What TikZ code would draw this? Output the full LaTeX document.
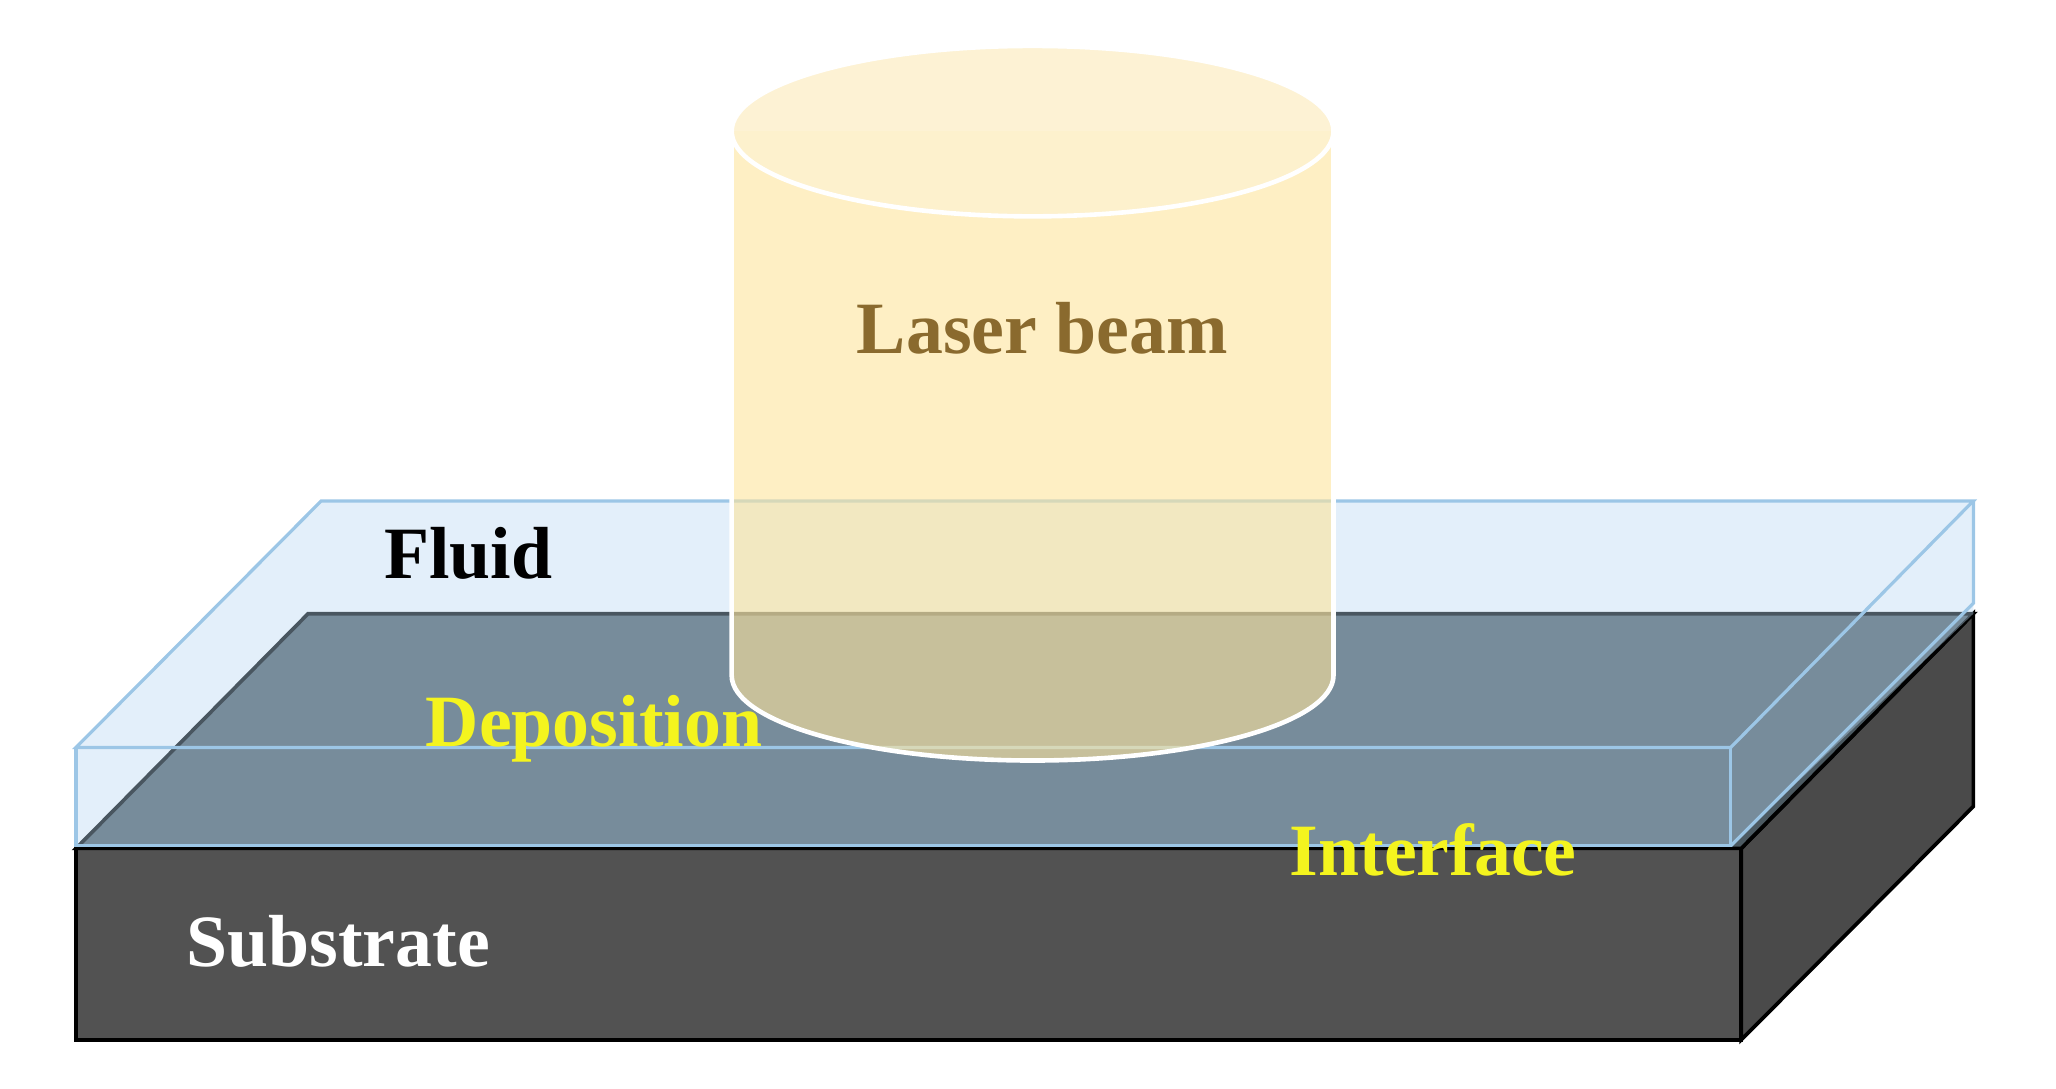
\documentclass[tikz,border=0pt]{standalone}
\usepackage{fontspec}
\setmainfont{Liberation Serif}
\definecolor{subfront}{HTML}{525252}
\definecolor{subtop}{HTML}{4C5A62}
\definecolor{fluidc}{HTML}{B8D8F2}
\definecolor{fluidedge}{HTML}{9CC6E6}
\definecolor{beamc}{HTML}{FDE49C}
\definecolor{beamtop}{HTML}{FDF1CF}
\definecolor{beamtxt}{HTML}{8A6A2E}
\definecolor{ylw}{HTML}{F4F41E}
\begin{document}
\begin{tikzpicture}[x=0.01cm,y=-0.01cm,
  lbl/.style={font=\bfseries\fontsize{16}{19}\selectfont,inner sep=0pt}]
\useasboundingbox (0,0) rectangle (1568,830);
% substrate
\draw[black,line width=0.8pt,fill=subfront] (58,647) -- (1328,647) -- (1328,793) -- (58,793) -- cycle;
\draw[black,line width=0.8pt,fill=subfront!90!black] (1328,647) -- (1505,468) -- (1505,615) -- (1328,793) -- cycle;
\draw[black,line width=0.8pt,fill=subtop] (58,647) -- (235,468) -- (1505,468) -- (1328,647) -- cycle;
% fluid
\fill[fluidc,fill opacity=0.4] (58,570) -- (245,382) -- (1505,382) -- (1320,570) -- cycle;
\fill[fluidc,fill opacity=0.4] (58,570) -- (1320,570) -- (1320,645) -- (58,645) -- cycle;
\fill[fluidc,fill opacity=0.4] (1320,570) -- (1505,382) -- (1505,468) -- (1320,645) -- cycle;
\draw[fluidedge,line width=0.7pt] (58,570) -- (245,382) -- (1505,382) -- (1320,570) -- cycle;
\draw[fluidedge,line width=0.7pt] (58,570) -- (58,645) -- (1320,645) -- (1320,570);
\draw[fluidedge,line width=0.7pt] (1320,645) -- (1505,460) -- (1505,382);
% laser beam
\fill[beamc,fill opacity=0.6] (558,100) -- (558,515) arc[start angle=180,end angle=0,x radius=229.5,y radius=65] -- (1017,100) -- cycle;
\draw[white,line width=1pt] (558,100) -- (558,515) arc[start angle=180,end angle=0,x radius=229.5,y radius=65] -- (1017,100);
\draw[white,line width=1pt,fill=beamtop,fill opacity=0.9] (787.5,100) ellipse[x radius=229.5,y radius=65];
% labels
\node[lbl,text=beamtxt] (laser) at (795,250) {Laser beam};
\node[lbl,text=black] (fluid) at (357,422) {Fluid};
\node[lbl,text=ylw] (depo) at (453,556) {Deposition};
\node[lbl,text=ylw] (intf) at (1093,648) {Interface};
\node[lbl,text=white] (sub) at (258,718) {Substrate};
\end{tikzpicture}
\end{document}
